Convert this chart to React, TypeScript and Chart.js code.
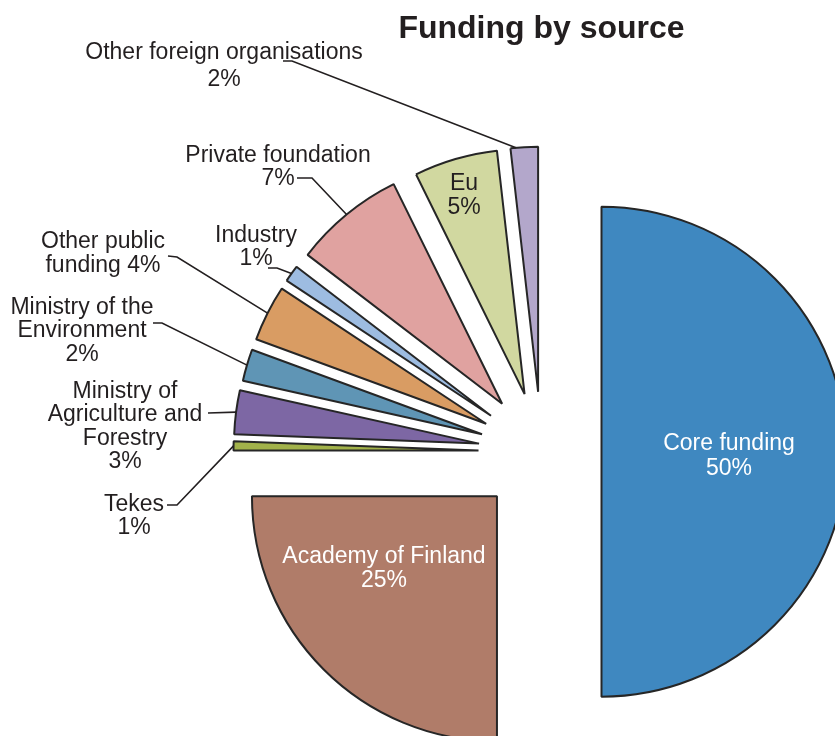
import React, { useEffect, useRef } from "react";
import { Chart, registerables } from "chart.js";

Chart.register(...registerables);

// ---- data ----
const categories = [
  "Core funding",
  "Academy of Finland",
  "Tekes",
  "Ministry of Agriculture and Forestry",
  "Ministry of the Environment",
  "Other public funding",
  "Industry",
  "Private foundation",
  "Eu",
  "Other foreign organisations",
];
const shares = [50, 25, 0.6, 2.9, 2.1, 3.7, 1.1, 7.3, 5.5, 1.8];
// percentages as printed on the chart
const percentLabels = ["50%", "25%", "1%", "3%", "2%", "4%", "1%", "7%", "5%", "2%"];
const sliceColors = [
  "#3f88c0",
  "#b07c69",
  "#a2b24a",
  "#7d67a4",
  "#5f95b5",
  "#d99c63",
  "#9dbce1",
  "#e0a2a0",
  "#d1d8a0",
  "#b3a7cb",
];
const titleText = "Funding by source";

// ---- styling / label layout ----
const explodeDistances = [60, 63, 63, 63, 62, 62, 62, 62, 60, 60];

type Label = {
  index: number;
  lines: string[];
  x: number;
  y: number;
  lh: number;
  color: string;
  leader?: number[][];
  at?: number; // where on the slice's outer arc the leader ends (0..1)
};
const DARK = "#231f20";
const labels: Label[] = [
  { index: 0, lines: [categories[0], percentLabels[0]], x: 729, y: 450, lh: 25, color: "#ffffff" },
  { index: 1, lines: [categories[1], percentLabels[1]], x: 384, y: 563, lh: 23.5, color: "#ffffff" },
  { index: 2, lines: ["Tekes", percentLabels[2]], x: 134, y: 511, lh: 22.5, color: DARK, leader: [[167, 505], [177, 505]] },
  { index: 3, lines: ["Ministry of", "Agriculture and", "Forestry", percentLabels[3]], x: 125, y: 398, lh: 23.3, color: DARK, leader: [[208, 413]] },
  { index: 4, lines: ["Ministry of the", "Environment", percentLabels[4]], x: 82, y: 313.5, lh: 23.5, color: DARK, leader: [[153, 323], [162, 323]] },
  { index: 5, lines: ["Other public", "funding " + percentLabels[5]], x: 103, y: 248, lh: 24, color: DARK, leader: [[168, 256], [177, 257]] },
  { index: 6, lines: ["Industry", percentLabels[6]], x: 256, y: 242, lh: 23, color: DARK, leader: [[268, 268], [277, 268]] },
  { index: 7, lines: ["Private foundation", percentLabels[7]], x: 278, y: 162, lh: 23, color: DARK, leader: [[297, 178], [312, 178]] },
  { index: 8, lines: ["Eu", percentLabels[8]], x: 464, y: 190, lh: 24.3, color: DARK },
  { index: 9, lines: ["Other foreign organisations", percentLabels[9]], x: 224, y: 59, lh: 27, color: DARK, leader: [[283, 61], [292, 61]], at: 0.2 },
];

const FONT = "'Liberation Sans', Arial, Helvetica, sans-serif";

const explodePlugin = {
  id: "explodeSlices",
  beforeDatasetsDraw(chart: any) {
    const { left, right, top, bottom } = chart.chartArea;
    const cx = (left + right) / 2;
    const cy = (top + bottom) / 2;
    chart.getDatasetMeta(0).data.forEach((arc: any, i: number) => {
      const mid = (arc.startAngle + arc.endAngle) / 2;
      const d = explodeDistances[i] || 0;
      arc.x = cx + Math.cos(mid) * d;
      arc.y = cy + Math.sin(mid) * d;
    });
  },
};

const labelPlugin = {
  id: "sliceLabels",
  afterDatasetsDraw(chart: any) {
    const ctx = chart.ctx as CanvasRenderingContext2D;
    const meta = chart.getDatasetMeta(0);
    ctx.save();
    ctx.lineWidth = 1.6;
    ctx.strokeStyle = DARK;
    labels.forEach((lab) => {
      const arc = meta.data[lab.index];
      if (!lab.leader || !arc) return;
      const f = lab.at === undefined ? 0.5 : lab.at;
      const ang = arc.startAngle + (arc.endAngle - arc.startAngle) * f;
      const r = arc.outerRadius;
      const ex = arc.x + Math.cos(ang) * r;
      const ey = arc.y + Math.sin(ang) * r;
      ctx.beginPath();
      ctx.moveTo(lab.leader[0][0], lab.leader[0][1]);
      for (let k = 1; k < lab.leader.length; k++) ctx.lineTo(lab.leader[k][0], lab.leader[k][1]);
      ctx.lineTo(ex, ey);
      ctx.stroke();
    });
    ctx.font = `23px ${FONT}`;
    ctx.textAlign = "center";
    ctx.textBaseline = "alphabetic";
    labels.forEach((lab) => {
      ctx.fillStyle = lab.color;
      lab.lines.forEach((line, k) => ctx.fillText(line, lab.x, lab.y + k * lab.lh));
    });
    ctx.restore();
  },
};

export default function App() {
  const ref = useRef<HTMLCanvasElement | null>(null);
  useEffect(() => {
    if (!ref.current) return;
    const chart = new Chart(ref.current, {
      type: "pie",
      data: {
        labels: categories,
        datasets: [
          {
            data: shares,
            backgroundColor: sliceColors,
            borderColor: "#262626",
            borderWidth: 2,
            radius: 245,
          } as any,
        ],
      },
      options: {
        responsive: true,
        maintainAspectRatio: false,
        animation: false,
        events: [],
        layout: { padding: 0 },
        plugins: {
          legend: { display: false },
          tooltip: { enabled: false },
          title: {
            display: true,
            text: titleText,
            color: DARK,
            font: { family: FONT, size: 32, weight: "bold" },
            padding: { top: 10, bottom: 10 },
          },
        },
      } as any,
      plugins: [explodePlugin, labelPlugin],
    });
    return () => chart.destroy();
  }, []);
  return (
    <div style={{ position: "fixed", left: 0, top: 0, width: 835, height: 736, overflow: "hidden", background: "#ffffff" }}>
      <div style={{ position: "absolute", left: 0, top: 0, width: 1083, height: 845 }}>
        <canvas ref={ref} />
      </div>
    </div>
  );
}
